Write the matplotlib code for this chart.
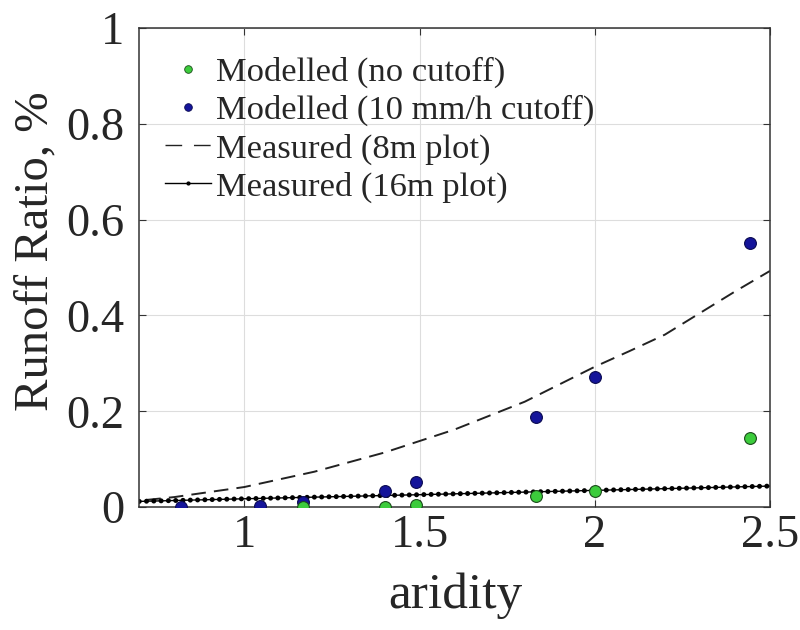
import matplotlib.pyplot as plt
from matplotlib.lines import Line2D

plt.rcParams['font.family'] = ['Liberation Serif', 'DejaVu Serif']

# modelled runoff ratio per site
aridity = [0.82, 1.045, 1.167, 1.40, 1.49, 1.833, 2.0, 2.442]
rr_cutoff = [0.0, 0.002, 0.011, 0.034, 0.053, 0.189, 0.271, 0.551]
aridity_nocut = [1.167, 1.40, 1.49, 1.833, 2.0, 2.442]
rr_nocut = [0.0, 0.0, 0.004, 0.024, 0.034, 0.145]

# measured trend curves
x_8m = [0.72, 0.8, 1.0, 1.2, 1.4, 1.5, 1.6, 1.8, 2.0, 2.1, 2.2, 2.3, 2.4, 2.5]
y_8m = [0.015, 0.021, 0.042, 0.074, 0.114, 0.138, 0.162, 0.22, 0.293, 0.326, 0.36, 0.405, 0.45, 0.493]
x_16m = [0.7, 1.0, 1.5, 2.0, 2.5]
y_16m = [0.012, 0.0175, 0.026, 0.035, 0.044]

xticks = [1, 1.5, 2, 2.5]
xticklabels = ['1', '1.5', '2', '2.5']
yticks = [0, 0.2, 0.4, 0.6, 0.8, 1.0]
yticklabels = ['0', '0.2', '0.4', '0.6', '0.8', '1']

txt = '#262626'
green = '#3ccc3c'
blue = '#14149a'

fig = plt.figure(figsize=(8, 6.3), dpi=100)
ax = fig.add_axes([0.174, 0.195, 0.7885, 0.7606])

ax.plot(x_8m, y_8m, color='#222222', lw=1.4, dashes=(7.5, 4.2), zorder=2)
ax.plot(x_16m, y_16m, color='black', lw=1.0, zorder=2)
ax.plot(x_16m, y_16m, color='black', lw=3.6, dashes=(0.01, 1.45),
        dash_capstyle='round', zorder=2)
ax.plot(aridity, rr_cutoff, 'o', ms=8.5, mfc=blue, mec='#0a0a50', mew=0.8, zorder=3)
ax.plot(aridity_nocut, rr_nocut, 'o', ms=8.5, mfc=green, mec='#1a4a1a', mew=0.8, zorder=3)

ax.set_xlim(0.7, 2.5)
ax.set_ylim(0, 1)
ax.set_xticks(xticks)
ax.set_xticklabels(xticklabels)
ax.set_yticks(yticks)
ax.set_yticklabels(yticklabels)
ax.grid(True, color='#dddddd', lw=0.8)
ax.set_axisbelow(True)
ax.tick_params(direction='in', length=5, width=0.8, colors='#333333',
               labelcolor=txt, labelsize=33.5, top=True, right=True)
ax.tick_params(axis='x', pad=5)
ax.tick_params(axis='y', pad=11)
for s in ax.spines.values():
    s.set_color('#333333')
    s.set_linewidth(1.1)

ax.set_xlabel('aridity', fontsize=37, color=txt)
ax.set_ylabel('Runoff Ratio, %', fontsize=35, color=txt)
ax.xaxis.set_label_coords(0.502, -0.137)
ax.yaxis.set_label_coords(-0.13, 0.534)

handles = [
    Line2D([], [], ls='none', marker='o', ms=5.5, mfc=green, mec='#1a4a1a', mew=0.6),
    Line2D([], [], ls='none', marker='o', ms=5.5, mfc=blue, mec='#0a0a50', mew=0.6),
    Line2D([], [], color='#222222', lw=1.0, dashes=(12, 8.5)),
    Line2D([], [], color='black', lw=1.0, marker='.', ms=4),
]
labels = ['Modelled (no cutoff)', 'Modelled (10 mm/h cutoff)',
          'Measured (8m plot)', 'Measured (16m plot)']
leg = ax.legend(handles, labels, loc='upper left', bbox_to_anchor=(0.041, 0.94),
                frameon=False, fontsize=24.8, handlelength=1.34, handletextpad=0.15,
                labelspacing=0.2, borderpad=0, borderaxespad=0)
for t in leg.get_texts():
    t.set_color(txt)

fig.savefig('out.png', dpi=100, facecolor='white')
